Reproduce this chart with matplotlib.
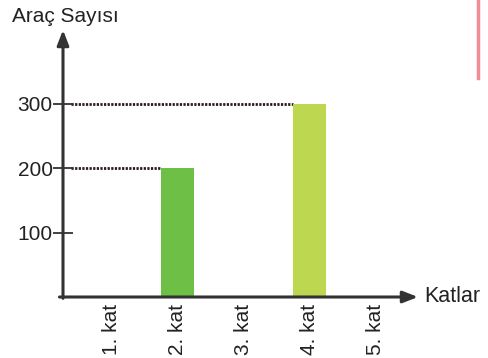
import matplotlib
matplotlib.use("Agg")
import matplotlib.pyplot as plt

floors = ["1. kat", "2. kat", "3. kat", "4. kat", "5. kat"]
cars = [0, 200, 0, 300, 0]
bar_colors = ["#6dbf45", "#6dbf45", "#6dbf45", "#bdd750", "#6dbf45"]
yticks = [100, 200, 300]

plt.rcParams["font.family"] = ["Liberation Sans", "DejaVu Sans"]

W, H = 489, 358
fig = plt.figure(figsize=(W / 100, H / 100), dpi=100)
# axes box in pixel coords: y-axis at x=63, x-axis at y=297
ax = fig.add_axes([63 / W, (H - 297) / H, (418 - 63) / W, (297 - 30) / H])
ax.set_xlim(-0.735, 4.644)
ax.set_ylim(0, 414)

x = list(range(len(floors)))
for i, v in enumerate(cars):
    if v > 0:
        ax.bar(i, v, width=0.5, color=bar_colors[i], zorder=2)
        # dotted guide from the y axis to the bar
        ax.plot([-0.62, i - 0.25], [v, v], linestyle=(0, (0.8, 0.5)), color="#2b1a1a",
                lw=2.0, zorder=1)

for s in ax.spines.values():
    s.set_visible(False)

axis_col = "#333333"
ax.annotate("", xy=(0, 1.0), xytext=(0, -0.005), xycoords="axes fraction",
            arrowprops=dict(arrowstyle="-|>,head_length=0.9,head_width=0.35",
                            color=axis_col, lw=2.2, shrinkA=0, shrinkB=0))
ax.annotate("", xy=(1.0, 0), xytext=(-0.01, 0), xycoords="axes fraction",
            arrowprops=dict(arrowstyle="-|>,head_length=0.9,head_width=0.35",
                            color=axis_col, lw=2.2, shrinkA=0, shrinkB=0))

ax.set_yticks(yticks)
ax.set_yticklabels([str(t) for t in yticks], fontsize=15, color="#222222")
ax.tick_params(axis="y", direction="inout", length=15, width=1.3, color=axis_col, pad=0)

ax.set_xticks(x)
ax.set_xticklabels(floors, rotation=90, fontsize=15, color="#222222", va="top")
ax.tick_params(axis="x", length=0, pad=5)

fig.text(12 / W, 1 - 16 / H, "Araç Sayısı", fontsize=15, color="#222222", va="center")
fig.text(424 / W, 1 - 296 / H, "Katlar", fontsize=15.5, color="#222222", va="center")

# pink margin line at top right
fig.add_artist(plt.Line2D([478 / W, 478 / W], [1 - 78 / H, 1.0], color="#f28b96", lw=2.5))

fig.savefig("out.png", dpi=100)
